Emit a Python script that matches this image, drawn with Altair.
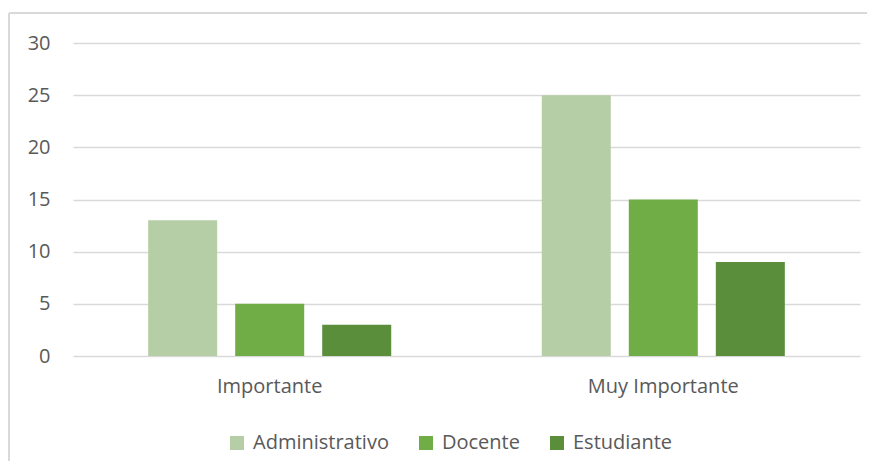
import altair as alt
import pandas as pd

categories = ["Importante", "Muy Importante"]
series = ["Administrativo", "Docente", "Estudiante"]
administrativo = [13, 25]
docente = [5, 15]
estudiante = [3, 9]
colors = ["#b5cea6", "#70ad47", "#5a8e3a"]
y_ticks = [0, 5, 10, 15, 20, 25, 30]

rows = []
for i, c in enumerate(categories):
    for s, vals in zip(series, [administrativo, docente, estudiante]):
        rows.append({"Nivel": c, "Grupo": s, "Valor": vals[i]})
df = pd.DataFrame(rows)

FONT = "Open Sans"
TXT = "#595959"
GRID = "#d9d9d9"
FS = 20

bars = alt.Chart(df).mark_bar().encode(
    x=alt.X("Nivel:N", sort=categories, title=None,
            scale=alt.Scale(paddingInner=0.3825, paddingOuter=0.191),
            axis=alt.Axis(labelAngle=0, domain=False, ticks=False, labelPadding=20,
                          labelFontSize=FS, labelColor=TXT, labelFont=FONT)),
    xOffset=alt.XOffset("Grupo:N", sort=series,
                        scale=alt.Scale(paddingInner=0.207, paddingOuter=0)),
    y=alt.Y("Valor:Q", title=None,
            scale=alt.Scale(domain=[0, 30], nice=False),
            axis=alt.Axis(values=y_ticks, domain=False, ticks=False, labelPadding=23,
                          gridColor=GRID, gridWidth=1.3, labelFontSize=FS,
                          labelColor=TXT, labelFont=FONT)),
    color=alt.Color("Grupo:N", sort=series,
                    scale=alt.Scale(domain=series, range=colors),
                    legend=alt.Legend(title=None, orient="none", direction="horizontal",
                                      legendX=154, legendY=390,
                                      symbolType="square", symbolSize=196,
                                      symbolStrokeWidth=0, labelFontSize=FS,
                                      labelColor=TXT, labelFont=FONT, labelOffset=6,
                                      columnPadding=27)),
)

frame = pd.DataFrame({"a": [0]})
top_line = alt.Chart(frame).mark_rule(stroke=GRID, strokeWidth=2, clip=False).encode(
    x=alt.value(-64), x2=alt.value(795), y=alt.value(-30)
)
left_line = alt.Chart(frame).mark_rule(stroke=GRID, strokeWidth=2, clip=False).encode(
    x=alt.value(-64), y=alt.value(-30), y2=alt.value(420)
)

chart = alt.layer(top_line, left_line, bars).properties(
    width=787, height=313,
    autosize=alt.AutoSizeParams(type="none"),
    padding={"left": 65, "top": 35, "right": 7, "bottom": 105},
).configure_view(stroke=None)

chart.save("out.html", embed_options={"renderer": "svg", "actions": False})
